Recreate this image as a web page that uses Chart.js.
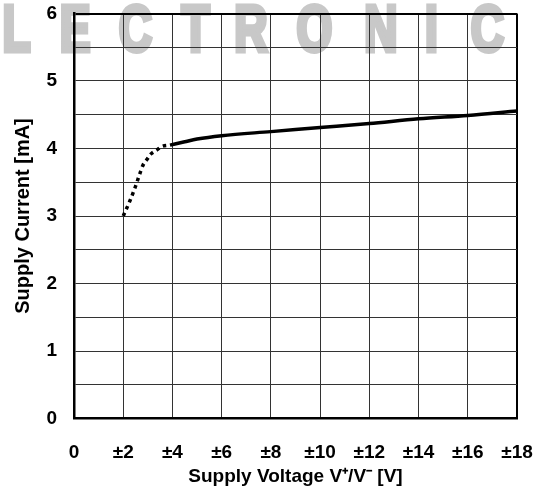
<!DOCTYPE html>
<html>
<head>
<meta charset="utf-8">
<script src="https://cdn.jsdelivr.net/npm/chart.js@4/dist/chart.umd.min.js"></script>
<style>
  html, body { margin: 0; padding: 0; background: #fff; }
  #wrap { width: 542px; height: 490px; position: relative; }
</style>
</head>
<body>
<div id="wrap"><canvas id="c" width="542" height="490"></canvas></div>
<script>
// ---- data ----
const dottedX = [2.0, 2.29, 2.49, 2.65, 2.80, 2.97, 3.13, 3.37, 3.58, 3.9];
const dottedY = [3.0, 3.24, 3.43, 3.60, 3.75, 3.84, 3.92, 3.98, 4.03, 4.05];
const solidX = [3.9, 4.5, 5, 6, 8, 10, 12, 14, 16, 18];
const solidY = [4.05, 4.10, 4.14, 4.19, 4.25, 4.31, 4.37, 4.44, 4.49, 4.555];
const xTickValues = [0, 2, 4, 6, 8, 10, 12, 14, 16, 18];
const xTickLabels = ['0', '±2', '±4', '±6', '±8', '±10', '±12', '±14', '±16', '±18'];
const yTickLabels = ['0', '1', '2', '3', '4', '5', '6'];
const xTitle = 'Supply Voltage V⁺/V⁻ [V]';
const yTitle = 'Supply Current [mA]';
const watermarkLetters = ['L', 'E', 'C', 'T', 'R', 'O', 'N', 'I', 'C'];

const toPoints = (xs, ys) => xs.map((x, i) => ({ x: x, y: ys[i] }));

const FONT = '"Liberation Sans", Arial, sans-serif';

const bgWatermark = {
  id: 'bgWatermark',
  beforeDraw(chart) {
    const ctx = chart.ctx;
    ctx.save();
    ctx.fillStyle = '#ffffff';
    ctx.fillRect(0, 0, chart.width, chart.height);
    const centers = [16.5, 75, 135.5, 195.5, 251, 314.5, 381, 431.5, 487.5];
    ctx.fillStyle = '#c8c8c8';
    ctx.strokeStyle = '#c8c8c8';
    ctx.lineWidth = 5;
    ctx.lineJoin = 'miter';
    ctx.font = 'bold 64px ' + FONT;
    ctx.textAlign = 'center';
    ctx.textBaseline = 'alphabetic';
    watermarkLetters.forEach((ch, i) => {
      ctx.save();
      ctx.translate(centers[i], 51);
      ctx.scale(0.72, 1);
      ctx.fillText(ch, 0, 0);
      ctx.strokeText(ch, 0, 0);
      ctx.restore();
    });
    ctx.restore();
  }
};

new Chart(document.getElementById('c'), {
  type: 'line',
  data: {
    datasets: [
      {
        data: toPoints(dottedX, dottedY),
        borderColor: '#000',
        borderWidth: 3.5,
        borderDash: [3.5, 4],
        borderCapStyle: 'butt',
        pointRadius: 0,
        cubicInterpolationMode: 'monotone',
        fill: false
      },
      {
        data: toPoints(solidX, solidY),
        borderColor: '#000',
        borderWidth: 3.5,
        pointRadius: 0,
        cubicInterpolationMode: 'monotone',
        fill: false
      }
    ]
  },
  options: {
    responsive: false,
    animation: false,
    events: [],
    layout: { padding: { left: 0, right: 25, top: 13.5, bottom: 0 } },
    plugins: { legend: { display: false }, tooltip: { enabled: false }, title: { display: false } },
    scales: {
      x: {
        type: 'linear',
        min: 0, max: 18,
        afterFit(s) { s.height = 71.5; s.paddingLeft = 0; s.paddingRight = 0; },
        afterBuildTicks(s) { s.ticks = xTickValues.map(v => ({ value: v })); },
        ticks: {
          autoSkip: false,
          maxRotation: 0,
          padding: 23,
          color: '#000',
          font: { family: FONT, size: 19, weight: 'bold' },
          callback: (v) => xTickLabels[xTickValues.indexOf(v)]
        },
        grid: {
          drawTicks: false,
          color: (c) => (c.index === 0 || c.index === xTickValues.length - 1) ? '#000' : '#333',
          lineWidth: (c) => (c.index === xTickValues.length - 1) ? 2 : 1
        },
        border: { display: true, color: '#000', width: 2.5 },
        title: {
          display: true,
          text: xTitle,
          color: '#000',
          font: { family: FONT, size: 19, weight: 'bold' },
          padding: { top: 0, bottom: 2 }
        }
      },
      y: {
        type: 'linear',
        min: 0, max: 6,
        afterFit(s) { s.width = 74; s.paddingTop = 0; s.paddingBottom = 0; },
        ticks: {
          stepSize: 0.5,
          autoSkip: false,
          padding: 17,
          color: '#000',
          font: { family: FONT, size: 19, weight: 'bold' },
          callback: (v) => (Number.isInteger(v) ? yTickLabels[v] : '')
        },
        grid: {
          drawTicks: false,
          color: (c) => (c.tick && c.tick.value === 6) ? '#000' : '#333',
          lineWidth: (c) => (c.tick && c.tick.value === 6) ? 2 : 1
        },
        border: { display: true, color: '#000', width: 2.5 },
        title: {
          display: true,
          text: yTitle,
          color: '#000',
          font: { family: FONT, size: 20, weight: 'bold' },
          padding: { top: 11, bottom: 0 }
        }
      }
    }
  },
  plugins: [bgWatermark]
});
</script>
</body>
</html>
